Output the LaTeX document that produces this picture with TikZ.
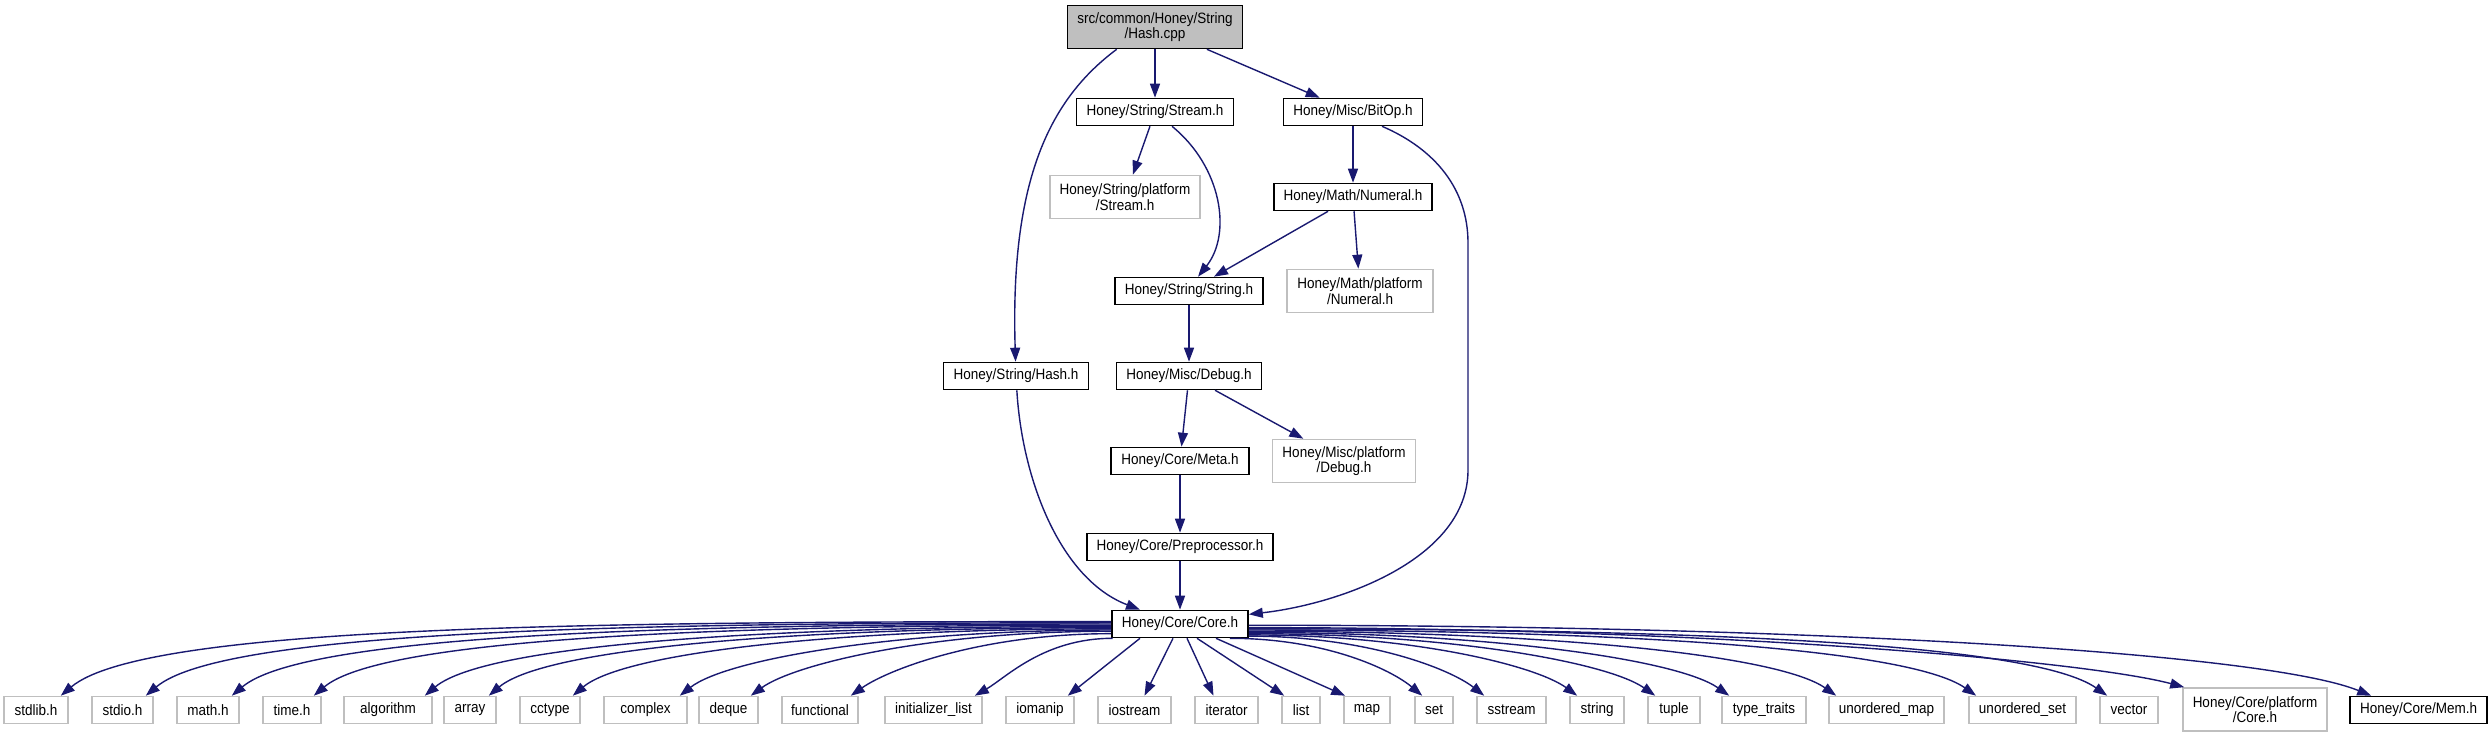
\documentclass[tikz,border=0pt]{standalone}
\usepackage{fontspec}
\setmainfont{Liberation Sans}[FakeStretch=0.9]
\usetikzlibrary{arrows.meta,calc}
\definecolor{edgeblue}{RGB}{25,25,112}
\definecolor{boxgray}{RGB}{191,191,191}
\tikzset{hdr/.style={draw=black,line width=1.6pt,fill=white,minimum height=27pt,inner sep=0pt},
 sys/.style={hdr,draw=boxgray},src/.style={hdr,fill=boxgray},
 tall/.style={minimum height=43pt,align=center},
 dep/.style={draw=edgeblue,line width=1.4pt,-{Triangle[length=14pt,width=10pt]}},
 every node/.style={font=\fontsize{15}{15.5}\selectfont}}
\begin{document}
\begin{tikzpicture}[x=1pt,y=1pt]
\useasboundingbox (0,0) rectangle (2492,739);
\node[src,tall,minimum width=175pt] (hashcpp) at (1155,712) {src/common/Honey/String\\/Hash.cpp};
\node[hdr,minimum width=157pt] (stream) at (1155,627) {Honey/String/Stream.h};
\node[hdr,minimum width=139pt] (bitop) at (1353,627) {Honey/Misc/BitOp.h};
\node[sys,tall,minimum width=150pt] (spstream) at (1125,542) {Honey/String/platform\\/Stream.h};
\node[hdr,minimum width=158pt] (numeral) at (1353,542) {Honey/Math/Numeral.h};
\node[hdr,minimum width=148pt] (strh) at (1189,448) {Honey/String/String.h};
\node[sys,tall,minimum width=146pt] (mpnumeral) at (1360,448) {Honey/Math/platform\\/Numeral.h};
\node[hdr,minimum width=145pt] (hashh) at (1016,363) {Honey/String/Hash.h};
\node[hdr,minimum width=145pt] (debug) at (1189,363) {Honey/Misc/Debug.h};
\node[hdr,minimum width=138pt] (meta) at (1180,278) {Honey/Core/Meta.h};
\node[sys,tall,minimum width=143pt] (mpdebug) at (1344,278) {Honey/Misc/platform\\/Debug.h};
\node[hdr,minimum width=186pt] (prep) at (1180,192) {Honey/Core/Preprocessor.h};
\node[hdr,minimum width=136pt] (core) at (1180,115) {Honey/Core/Core.h};
% system headers
\foreach \nd/\lb/\xc/\w in {stdlib/stdlib.h/36/64,stdio/stdio.h/122.5/61,math/math.h/208/62,
 time/time.h/292/58,algorithm/algorithm/388/88,array/array/470/52,cctype/cctype/550/60,
 complex/complex/645.5/83,deque/deque/728.5/59,functional/functional/820/76,
 initlist/initializer\_list/933.5/97,iomanip/iomanip/1040/68,iostream/iostream/1134.5/73,
 iterator/iterator/1226.5/63,list/list/1301/38,map/map/1367/46,set/set/1434/38,
 sstream/sstream/1511.5/69,stdstring/string/1597/54,tuple/tuple/1674/52,
 typetraits/type\_traits/1764/84,umap/unordered\_map/1886.5/115,
 uset/unordered\_set/2022.5/107,vector/vector/2129/58}
  \node[sys,minimum width=\w pt] (\nd) at (\xc,29) {\lb};
\node[sys,tall,minimum width=144pt] (cpcore) at (2255,29.5) {Honey/Core/platform\\/Core.h};
\node[hdr,minimum width=137pt] (mem) at (2418.5,29) {Honey/Core/Mem.h};
% includes
\draw[dep] ([xshift=50pt]hashcpp.south west) .. controls (1050,640) and (1010,560) .. (hashh);
\draw[dep] (hashcpp) -- (stream);
\draw[dep] (hashcpp) -- (bitop);
\draw[dep] (stream) -- (spstream);
\draw[dep] ([xshift=17pt]stream.south) .. controls (1222,572) and (1232,505) .. ([xshift=9pt]strh.north);
\draw[dep] (bitop) -- (numeral);
\draw[dep] ([xshift=29pt]bitop.south) .. controls (1435,590) and (1468,550) .. (1468,496)
  -- (1468,269) .. controls (1468,180) and (1340,135) .. (core.8);
\draw[dep] (numeral) -- (strh);
\draw[dep] (numeral) -- (mpnumeral);
\draw[dep] (strh) -- (debug);
\draw[dep] (hashh) .. controls (1022,260) and (1060,160) .. ([xshift=-40pt]core.north);
\draw[dep] (debug) -- (meta);
\draw[dep] (debug) -- (mpdebug);
\draw[dep] (meta) -- (prep);
\draw[dep] (prep) -- (core);
% fan out of Core.h
\foreach \nd/\sa/\ang in {stdlib/178/40,stdio/179/40,math/180/40,time/181/40,algorithm/182/40,
 array/183/40,cctype/184/40,complex/185/38,deque/186/36,functional/188/35,initlist/192/30}
  \draw[dep] let \p1=(core.\sa), \p2=([xshift=-8pt]\nd.north east), \n1={0.08*abs(\x2-\x1)+25} in
    (\p1) .. controls (0.5*\x1+0.5*\x2,\y1) and ($(\p2)+(\ang:\n1)$) .. (\p2);
\draw[dep] ([xshift=-40pt]core.south) -- ([xshift=-7pt]iomanip.north east);
\draw[dep] ([xshift=-7pt]core.south) -- ([xshift=10pt]iostream.north);
\draw[dep] ([xshift=7pt]core.south) -- ([xshift=-13pt]iterator.north);
\draw[dep] ([xshift=17pt]core.south) -- ([xshift=3pt]list.north west);
\draw[dep] ([xshift=36pt]core.south) -- ([xshift=2pt]map.north west);
\foreach \nd/\sa/\ang/\dx in {set/-16/140/8,sstream/-10/142/8,stdstring/-9/144/8,tuple/-8/145/8,
 typetraits/-7/145/8,umap/-6/145/8,uset/-5/145/8,vector/-4/145/8,cpcore/-3/165/2,mem/-1/158/22}
  \draw[dep] let \p1=(core.\sa), \p2=([xshift=\dx pt]\nd.north west), \n1={0.08*abs(\x2-\x1)+25} in
    (\p1) .. controls (0.5*\x1+0.5*\x2,\y1) and ($(\p2)+(\ang:\n1)$) .. (\p2);
\end{tikzpicture}
\end{document}
